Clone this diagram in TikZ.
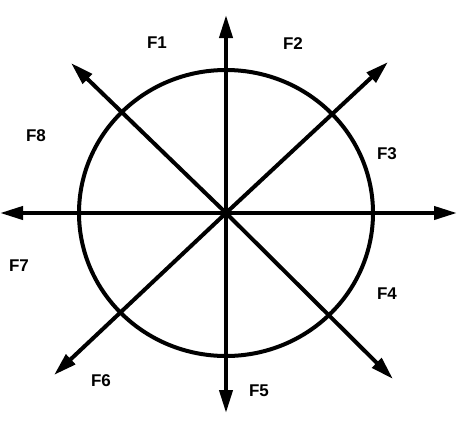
\documentclass[tikz,border=0pt]{standalone}
\usepackage{fontspec}
\setmainfont{Liberation Sans}
\usetikzlibrary{arrows.meta}
\begin{document}
\begin{tikzpicture}[x=1pt,y=-1pt,
  force/.style={line width=4pt,-{Triangle[length=23pt,width=13pt]}},
  ring/.style={line width=4pt},
  lbl/.style={font=\fontsize{17}{17}\selectfont\bfseries,inner sep=0pt}]
\useasboundingbox (0,0) rectangle (466,440);
\coordinate (c) at (226,213);
\coordinate (t1) at (226,15);
\coordinate (t2) at (388,62);
\coordinate (t3) at (457,213);
\coordinate (t4) at (393,379);
\coordinate (t5) at (226,413);
\coordinate (t6) at (54,375);
\coordinate (t7) at (0,213);
\coordinate (t8) at (71,63);
\draw[ring] (c) ellipse [x radius=147, y radius=143];
\foreach \i in {1,...,8} \draw[force] (c) -- (t\i);
\node[lbl] (F1) at (157,43) {F1};
\node[lbl] (F2) at (293,44) {F2};
\node[lbl] (F3) at (387,154) {F3};
\node[lbl] (F4) at (387,294) {F4};
\node[lbl] (F5) at (259,391) {F5};
\node[lbl] (F6) at (101,381) {F6};
\node[lbl] (F7) at (19,266) {F7};
\node[lbl] (F8) at (36,136) {F8};
\end{tikzpicture}
\end{document}
